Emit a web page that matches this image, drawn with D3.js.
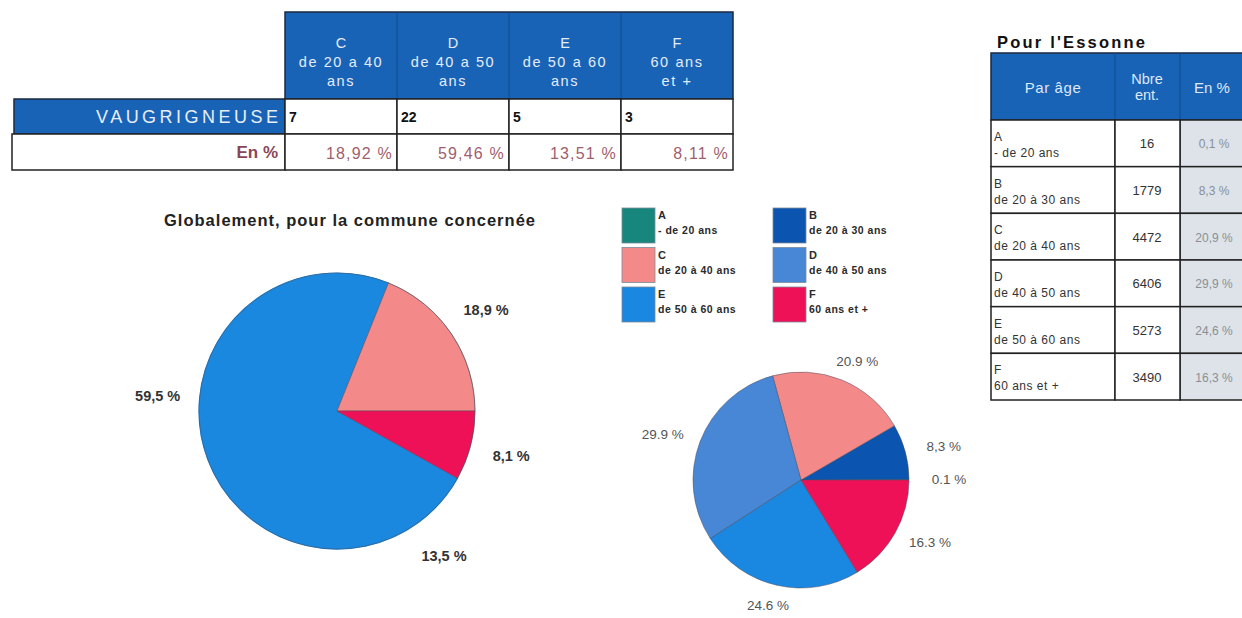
<!DOCTYPE html>
<html><head><meta charset="utf-8">
<script src="https://cdn.jsdelivr.net/npm/d3@7"></script>
<style>
html,body{margin:0;padding:0;background:#fff;}
svg{display:block;font-family:"Liberation Sans",Arial,sans-serif;}
</style></head>
<body><svg id="c" width="1242" height="618"></svg>
<script>
// ---------- data ----------
const communeName = "VAUGRIGNEUSE";
const communeCategories = ["C", "D", "E", "F"];
const communeHeaderLines = [["C", "de 20 a 40", "ans"], ["D", "de 40 a 50", "ans"], ["E", "de 50 a 60", "ans"], ["F", "60 ans", "et +"]];
const communeCounts = [7, 22, 5, 3];
const communePctText = ["18,92 %", "59,46 %", "13,51 %", "8,11 %"];
const communePieLabels = ["18,9 %", "59,5 %", "13,5 %", "8,1 %"];

const essonneCategories = ["A", "B", "C", "D", "E", "F"];
const essonneAgeLabels = ["- de 20 ans", "de 20 à 30 ans", "de 20 à 40 ans", "de 40 à 50 ans", "de 50 à 60 ans", "60 ans et +"];
const essonneCounts = [16, 1779, 4472, 6406, 5273, 3490];
const essonnePctText = ["0,1 %", "8,3 %", "20,9 %", "29,9 %", "24,6 %", "16,3 %"];
const essonnePieLabels = ["0.1 %", "8,3 %", "20.9 %", "29.9 %", "24.6 %", "16.3 %"];

const legendLabels = ["- de 20 ans", "de 20 à 30 ans", "de 20 à 40 ans", "de 40 à 50 ans", "de 50 à 60 ans", "60 ans et +"];

// ---------- styles ----------
const catColor = {A: "#17877e", B: "#0b55b0", C: "#f38a89", D: "#4886d6", E: "#1a88e0", F: "#ef1158"};
const communeSliceColor = {C: "#f38a89", D: "#1a88de", E: "#1a88de", F: "#ef1158"};
const headBlue = "#1863b6";

const svg = d3.select("#c");
svg.append("rect").attr("width", 1242).attr("height", 618).attr("fill", "#fff");

// ---------- top table ----------
const tx = d3.scaleBand().domain(communeCategories).range([285, 733]);
const tbl = svg.append("g");
tbl.append("rect").attr("x", 285).attr("y", 12).attr("width", 448).attr("height", 87)
  .attr("fill", headBlue).attr("stroke", "#1a2a40").attr("stroke-width", 1.5);
communeCategories.forEach((c, i) => {
  if (i > 0) tbl.append("line").attr("x1", tx(c)).attr("x2", tx(c)).attr("y1", 12).attr("y2", 99)
    .attr("stroke", "#0f4a8e").attr("stroke-width", 1);
  communeHeaderLines[i].forEach((t, j) => {
    tbl.append("text").attr("x", tx(c) + tx.bandwidth() / 2).attr("y", 48 + j * 19)
      .attr("text-anchor", "middle").attr("fill", "#e4ecf7").attr("font-size", 14.5)
      .attr("letter-spacing", j === 0 ? 0 : 1.6).text(t);
  });
});
// name row
tbl.append("rect").attr("x", 14).attr("y", 99).attr("width", 271).attr("height", 35)
  .attr("fill", headBlue).attr("stroke", "#1a2a40").attr("stroke-width", 1.5);
tbl.append("text").attr("x", 278).attr("y", 123).attr("text-anchor", "end")
  .attr("fill", "#e8eef8").attr("font-size", 18).attr("textLength", 182).attr("lengthAdjust", "spacing")
  .text(communeName);
// pct row label
tbl.append("rect").attr("x", 12).attr("y", 134).attr("width", 273).attr("height", 36)
  .attr("fill", "#fff").attr("stroke", "#222").attr("stroke-width", 1.5);
tbl.append("text").attr("x", 278).attr("y", 158).attr("text-anchor", "end")
  .attr("fill", "#8a4556").attr("font-size", 17).attr("font-weight", "bold").text("En %");
communeCategories.forEach((c, i) => {
  tbl.append("rect").attr("x", tx(c)).attr("y", 99).attr("width", tx.bandwidth()).attr("height", 35)
    .attr("fill", "#fff").attr("stroke", "#222").attr("stroke-width", 1.5);
  tbl.append("rect").attr("x", tx(c)).attr("y", 134).attr("width", tx.bandwidth()).attr("height", 36)
    .attr("fill", "#fff").attr("stroke", "#222").attr("stroke-width", 1.5);
  tbl.append("text").attr("x", tx(c) + 4).attr("y", 122).attr("fill", "#111")
    .attr("font-size", 14).attr("font-weight", "bold").text(communeCounts[i]);
  tbl.append("text").attr("x", tx(c) + tx.bandwidth() - 4).attr("y", 159).attr("text-anchor", "end")
    .attr("fill", "#a0606e").attr("font-size", 16).attr("letter-spacing", 1.2).text(communePctText[i]);
});

// ---------- right table ----------
const rt = svg.append("g");
rt.append("text").attr("x", 997).attr("y", 48).attr("font-size", 16.5).attr("font-weight", "bold")
  .attr("fill", "#111").attr("textLength", 148).attr("lengthAdjust", "spacing").text("Pour l'Essonne");
const colX = [991, 1115, 1180, 1262];
rt.append("rect").attr("x", 991).attr("y", 53).attr("width", 271).attr("height", 67)
  .attr("fill", headBlue).attr("stroke", "#1a2a40").attr("stroke-width", 1.5);
[1115, 1180].forEach(x => rt.append("line").attr("x1", x).attr("x2", x).attr("y1", 53).attr("y2", 120)
  .attr("stroke", "#0f4a8e").attr("stroke-width", 1));
rt.append("text").attr("x", 1053).attr("y", 93).attr("text-anchor", "middle").attr("fill", "#dfe8f6").attr("font-size", 15).attr("letter-spacing", 0.6).text("Par âge");
rt.append("text").attr("x", 1147).attr("y", 84).attr("text-anchor", "middle").attr("fill", "#dfe8f6").attr("font-size", 14.5).text("Nbre");
rt.append("text").attr("x", 1147).attr("y", 100).attr("text-anchor", "middle").attr("fill", "#dfe8f6").attr("font-size", 14.5).text("ent.");
rt.append("text").attr("x", 1194).attr("y", 93).attr("fill", "#dfe8f6").attr("font-size", 15).text("En %");
const ry = d3.scaleBand().domain(essonneCategories).range([120, 400]);
essonneCategories.forEach((c, i) => {
  const y = ry(c), h = ry.bandwidth();
  rt.append("rect").attr("x", colX[2]).attr("y", y).attr("width", colX[3] - colX[2]).attr("height", h)
    .attr("fill", "#dde3e9").attr("stroke", "#222").attr("stroke-width", 1.5);
  rt.append("rect").attr("x", colX[0]).attr("y", y).attr("width", colX[1] - colX[0]).attr("height", h)
    .attr("fill", "#fff").attr("stroke", "#222").attr("stroke-width", 1.5);
  rt.append("rect").attr("x", colX[1]).attr("y", y).attr("width", colX[2] - colX[1]).attr("height", h)
    .attr("fill", "#fff").attr("stroke", "#222").attr("stroke-width", 1.5);
  rt.append("text").attr("x", 994).attr("y", y + 21).attr("font-size", 12).attr("fill", "#333").text(c);
  rt.append("text").attr("x", 994).attr("y", y + 37).attr("font-size", 12).attr("letter-spacing", 0.5).attr("fill", "#333").text(essonneAgeLabels[i]);
  rt.append("text").attr("x", 1147).attr("y", y + h / 2 + 5).attr("text-anchor", "middle")
    .attr("font-size", 13).attr("fill", "#333").text(essonneCounts[i]);
  rt.append("text").attr("x", 1214).attr("y", y + h / 2 + 5).attr("text-anchor", "middle")
    .attr("font-size", 12).attr("fill", "#8a8f96").text(essonnePctText[i]);
});

// ---------- legend ----------
const lg = svg.append("g");
essonneCategories.forEach((c, i) => {
  const col = i % 2, row = Math.floor(i / 2);
  const x = col === 0 ? 622 : 773;
  const y = 208 + row * 39.5;
  lg.append("rect").attr("x", x).attr("y", y).attr("width", 33).attr("height", 35)
    .attr("fill", catColor[c]).attr("stroke", "#7a8a9a").attr("stroke-width", 0.8);
  lg.append("text").attr("x", x + 36).attr("y", y + 11).attr("font-size", 11).attr("font-weight", "bold")
    .attr("fill", "#2a2a2a").text(c);
  lg.append("text").attr("x", x + 36).attr("y", y + 26).attr("font-size", 10.5).attr("font-weight", "bold")
    .attr("letter-spacing", 0.5).attr("fill", "#2a2a2a").text(legendLabels[i]);
});

// ---------- pies ----------
const pie = d3.pie().sort(null).value(d => d).startAngle(Math.PI / 2).endAngle(Math.PI / 2 - 2 * Math.PI);

// left pie
svg.append("text").attr("x", 164).attr("y", 226)
  .attr("font-size", 16.5).attr("font-weight", "bold").attr("fill", "#222")
  .attr("textLength", 371).attr("lengthAdjust", "spacing")
  .text("Globalement, pour la commune concernée");
const lp = svg.append("g").attr("transform", "translate(337,411)");
const lR = 138;
const lArc = d3.arc().innerRadius(0).outerRadius(lR);
const lLab = d3.arc().innerRadius(180).outerRadius(180);
const lData = pie(communeCounts);
const lOrder = [1, 2, 0, 3]; // draw the blue slices first, outlined slices on top
lp.selectAll("path").data(lOrder.map(k => ({d: lData[k], k}))).join("path").attr("d", o => lArc(o.d))
  .attr("fill", o => communeSliceColor[communeCategories[o.k]])
  .attr("stroke", o => (o.k === 1 || o.k === 2) ? communeSliceColor[communeCategories[o.k]] : "#6a4a5a")
  .attr("stroke-width", o => (o.k === 1 || o.k === 2) ? 1.2 : 0.8)
  .attr("stroke-opacity", o => (o.k === 1 || o.k === 2) ? 1 : 0.7);
lp.append("circle").attr("r", lR).attr("fill", "none").attr("stroke", "#4a4a5a").attr("stroke-width", 0.8).attr("stroke-opacity", 0.6);
lp.selectAll("text").data(lData).join("text")
  .attr("transform", d => `translate(${lLab.centroid(d)})`).attr("dy", "0.35em")
  .attr("text-anchor", "middle").attr("font-size", 14.5).attr("font-weight", "bold").attr("fill", "#333")
  .text((d, i) => communePieLabels[i]);

// right pie
const rp = svg.append("g").attr("transform", "translate(801,480)");
const rArc = d3.arc().innerRadius(0).outerRadius(108);
const rData = pie(essonneCounts);
rp.selectAll("path").data(rData).join("path").attr("d", rArc)
  .attr("fill", (d, i) => catColor[essonneCategories[i]])
  .attr("stroke", "#4a4a5a").attr("stroke-width", 0.7).attr("stroke-opacity", 0.7);
const labPos = d => {
  const a = (d.startAngle + d.endAngle) / 2;
  return [Math.sin(a) * 148, -Math.cos(a) * 128];
};
rp.selectAll("text").data(rData).join("text")
  .attr("transform", d => `translate(${labPos(d)})`).attr("dy", "0.35em")
  .attr("text-anchor", "middle").attr("font-size", 13.5).attr("fill", "#555")
  .text((d, i) => essonnePieLabels[i]);
</script></body></html>
